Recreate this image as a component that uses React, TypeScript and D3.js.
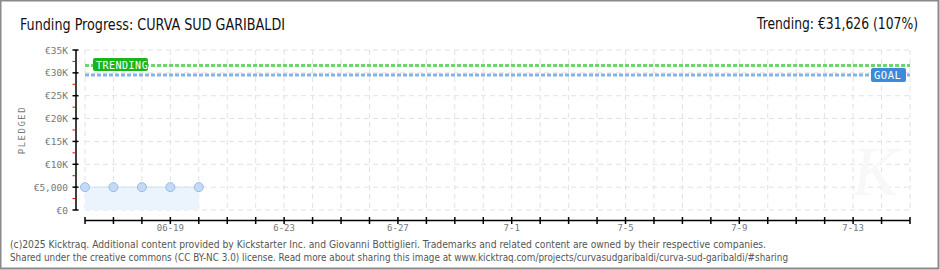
import React from "react";
import * as d3 from "d3";

const dates = ["2025-06-16", "2025-06-17", "2025-06-18", "2025-06-19", "2025-06-20"];
const pledged = [5000, 5000, 5000, 5000, 5000];
const goal = 29557;
const trending = 31626;
const yTicks = [0, 5000, 10000, 15000, 20000, 25000, 30000, 35000];
const yTickLabels = ["€0", "€5,000", "€10K", "€15K", "€20K", "€25K", "€30K", "€35K"];
const xLabelDates = ["2025-06-19", "2025-06-23", "2025-06-27", "2025-07-01", "2025-07-05", "2025-07-09", "2025-07-13"];
const xLabels = ["06-19", "6-23", "6-27", "7-1", "7-5", "7-9", "7-13"];
const domainStart = "2025-06-16";
const domainEnd = "2025-07-15";

const W = 940, H = 270;
const pf = d3.utcParse("%Y-%m-%d");

export default function App() {
  const x = d3.scaleUtc().domain([pf(domainStart)!, pf(domainEnd)!]).range([85, 910]);
  const y = d3.scaleLinear().domain([0, 35000]).range([210, 50]);
  const days = d3.utcDay.range(pf(domainStart)!, d3.utcDay.offset(pf(domainEnd)!, 1));
  const minor = d3.range(2500, 35000, 5000);
  const pts = dates.map((d, i) => ({ d: pf(d)!, v: pledged[i] }));
  const area = d3.area<any>().x(p => x(p.d)).y0(y(0)).y1(p => y(p.v));
  const line = d3.line<any>().x(p => x(p.d)).y(p => y(p.v));
  const pix = "'DejaVu Sans Mono', monospace";
  const cond = "'DejaVu Sans Condensed', sans-serif";
  return (
    <svg width={W} height={H} style={{ position: "absolute", left: 0, top: 0 }}>
      <rect x={0.5} y={0.5} width={W - 2} height={H - 2} fill="#fff" stroke="#8a8a8a" strokeWidth={2} />
      <text x={20} y={30} fontFamily={cond} fontSize={16} fill="#111" textLength={265} lengthAdjust="spacingAndGlyphs">Funding Progress: CURVA SUD GARIBALDI</text>
      <text transform="translate(918,29) scale(0.86,1)" textAnchor="end" fontFamily={cond} fontSize={16} fill="#111">Trending:  €31,626 (107%)</text>
      {/* grid */}
      {days.map((d, i) => (
        <line key={"vg" + i} x1={x(d)} x2={x(d)} y1={50} y2={210} stroke="#e2e2e2" strokeDasharray="5,4" />
      ))}
      {yTicks.map((t, i) => (
        <line key={"hg" + i} x1={85} x2={910} y1={y(t)} y2={y(t)} stroke="#e2e2e2" strokeDasharray="5,4" />
      ))}
      {/* watermark */}
      <text x={875} y={195} textAnchor="middle" fontFamily="serif" fontStyle="italic" fontSize={70} fill="#f8f8f8">K</text>
      {/* area */}
      <path d={area(pts)!} fill="#ebf3fc" />
      <path d={line(pts)!} fill="none" stroke="#cfe0f5" strokeWidth={1} />
      {/* goal & trending lines */}
      <line x1={85} x2={910} y1={y(trending)} y2={y(trending)} stroke="#6fd36f" strokeWidth={3} strokeDasharray="4,2" />
      <line x1={85} x2={910} y1={y(goal)} y2={y(goal)} stroke="#86b2e6" strokeWidth={3} strokeDasharray="4,2" />
      {pts.map((p, i) => (
        <circle key={"c" + i} cx={x(p.d)} cy={y(p.v)} r={4.5} fill="#c2daf6" stroke="#97bbe6" strokeWidth={1} />
      ))}
      {/* labels */}
      <rect x={93} y={58} width={55} height={13} rx={2} fill="#19b519" />
      <text x={96} y={68.5} fontFamily={pix} fontSize={10} fill="#fff" letterSpacing={0.5}>TRENDING</text>
      <rect x={871} y={68} width={35} height={14} rx={2} fill="#3d8ad8" />
      <text x={874} y={79} fontFamily={pix} fontSize={10.5} fill="#fff" letterSpacing={0.5}>GOAL</text>
      {/* y axis */}
      <line x1={76} x2={76} y1={50} y2={210} stroke="#000" strokeWidth={1.5} />
      {yTicks.map((t, i) => (
        <g key={"yt" + i}>
          <line x1={72.5} x2={78.5} y1={y(t)} y2={y(t)} stroke="#000" strokeWidth={1.5} />
          <text x={68} y={y(t) + 3.5} textAnchor="end" fontFamily={pix} fontSize={9.5} fill="#777">{yTickLabels[i]}</text>
        </g>
      ))}
      {minor.map((t, i) => (
        <line key={"mt" + i} x1={72.5} x2={76} y1={y(t)} y2={y(t)} stroke="#e00" strokeWidth={1} />
      ))}
      <text transform="translate(25,130) rotate(-90)" textAnchor="middle" fontFamily={pix} fontSize={9} fill="#777" letterSpacing={1.5}>PLEDGED</text>
      {/* x axis */}
      <line x1={85} x2={910} y1={220.5} y2={220.5} stroke="#000" strokeWidth={1.5} />
      {days.map((d, i) => (
        <line key={"xt" + i} x1={x(d)} x2={x(d)} y1={217} y2={224} stroke="#000" strokeWidth={1.5} />
      ))}
      {xLabelDates.map((d, i) => (
        <text key={"xl" + i} x={x(pf(d)!)} y={231} textAnchor="middle" fontFamily={pix} fontSize={9} fill="#777">{xLabels[i]}</text>
      ))}
      {/* footer */}
      <text x={10} y={248} fontFamily={cond} fontSize={10} fill="#555" textLength={756} lengthAdjust="spacingAndGlyphs">(c)2025 Kicktraq. Additional content provided by Kickstarter Inc. and Giovanni Bottiglieri. Trademarks and related content are owned by their respective companies.</text>
      <text x={10} y={261} fontFamily={cond} fontSize={10} fill="#555" textLength={778} lengthAdjust="spacingAndGlyphs">Shared under the creative commons (CC BY-NC 3.0) license. Read more about sharing this image at www.kicktraq.com/projects/curvasudgaribaldi/curva-sud-garibaldi/#sharing</text>
    </svg>
  );
}
